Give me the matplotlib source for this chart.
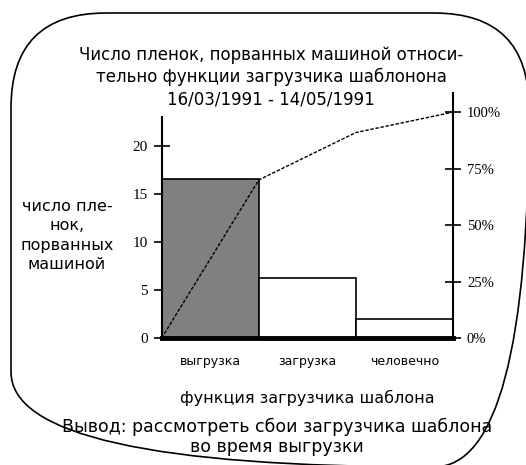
import matplotlib
matplotlib.use("Agg")
import matplotlib.pyplot as plt
from matplotlib.patches import FancyBboxPatch

# data
categories = ["выгрузка", "загрузка", "человечно"]
counts = [16.5, 6.2, 2.0]
cum_percent = [0, 70, 91, 100]
left_ticks = [0, 5, 10, 15, 20]
right_ticks = [0, 25, 50, 75, 100]
right_labels = ["0%", "25%", "50%", "75%", "100%"]

title_lines = ["Число пленок, порванных машиной относи-",
               "тельно функции загрузчика шаблонона",
               "16/03/1991 - 14/05/1991"]
ylabel_lines = ["число пле-", "нок,", "порванных", "машиной"]
xlabel = "функция загрузчика шаблона"
conclusion = ["Вывод: рассмотреть сбои загрузчика шаблона", "во время выгрузки"]

W, H = 526, 465
SANS = "DejaVu Sans"
SERIF = "Liberation Serif"

fig = plt.figure(figsize=(W / 100, H / 100), dpi=100)

# overlay in pixel coordinates for the frame and free text
bg = fig.add_axes([0, 0, 1, 1], zorder=0)
bg.set_xlim(0, W)
bg.set_ylim(H, 0)
bg.axis("off")
frame = FancyBboxPatch((11, 13), 518, 454, boxstyle="round,pad=0,rounding_size=95",
                       facecolor="none", edgecolor="black", linewidth=1.2, clip_on=False)
bg.add_patch(frame)

for i, line in enumerate(title_lines):
    bg.text(271, 55 + 22 * i, line, ha="center", va="center", fontsize=12, family=SANS)
for i, line in enumerate(ylabel_lines):
    bg.text(67, 206 + 19.5 * i, line, ha="center", va="center", fontsize=11.5, family=SANS)
bg.text(307, 398, xlabel, ha="center", va="center", fontsize=11.5, family=SANS)
for i, line in enumerate(conclusion):
    bg.text(277, 427 + 20 * i, line, ha="center", va="center", fontsize=12.5, family=SANS)

# main chart
ax = fig.add_axes([161.7 / W, 1 - 338 / H, (453 - 161.7) / W, (338 - 93) / H], zorder=2)
ax.patch.set_alpha(0)
x = list(range(len(categories)))
colors = ["#808080", "white", "white"]
ax.bar(x, counts, width=1.0, color=colors, edgecolor="black", linewidth=1.2, zorder=2)
ax.set_xlim(-0.5, len(categories) - 0.5)
ax.set_ylim(0, 25.5)
ax.set_yticks(left_ticks)
ax.set_xticks(x)
ax.set_xticklabels(categories, fontsize=9, family=SANS)
ax.tick_params(axis="x", length=0, pad=12)
ax.tick_params(axis="y", direction="inout", length=12, width=1.2, labelsize=11, pad=4)
for lab in ax.get_yticklabels():
    lab.set_family(SERIF)
ax.spines["top"].set_visible(False)
ax.spines["right"].set_visible(False)
ax.spines["left"].set_bounds(0, 23)
ax.spines["left"].set_linewidth(1.5)
ax.spines["bottom"].set_linewidth(3.5)
ax.spines["bottom"].set_zorder(5)

ax2 = ax.twinx()
ax2.set_ylim(0, 108.5)
line_x = [v - 0.5 for v in range(len(categories) + 1)]
ax2.plot(line_x, cum_percent, color="black", linewidth=1.0, linestyle=(0, (2.5, 1.2)),
         zorder=3, clip_on=False)
ax2.set_yticks(right_ticks)
ax2.set_yticklabels(right_labels, family=SERIF)
ax2.tick_params(axis="y", direction="inout", length=12, width=1.2, labelsize=10.5, pad=4)
for side in ["top", "left", "bottom"]:
    ax2.spines[side].set_visible(False)
ax2.spines["right"].set_linewidth(1.5)

fig.savefig("out.png", dpi=100)
